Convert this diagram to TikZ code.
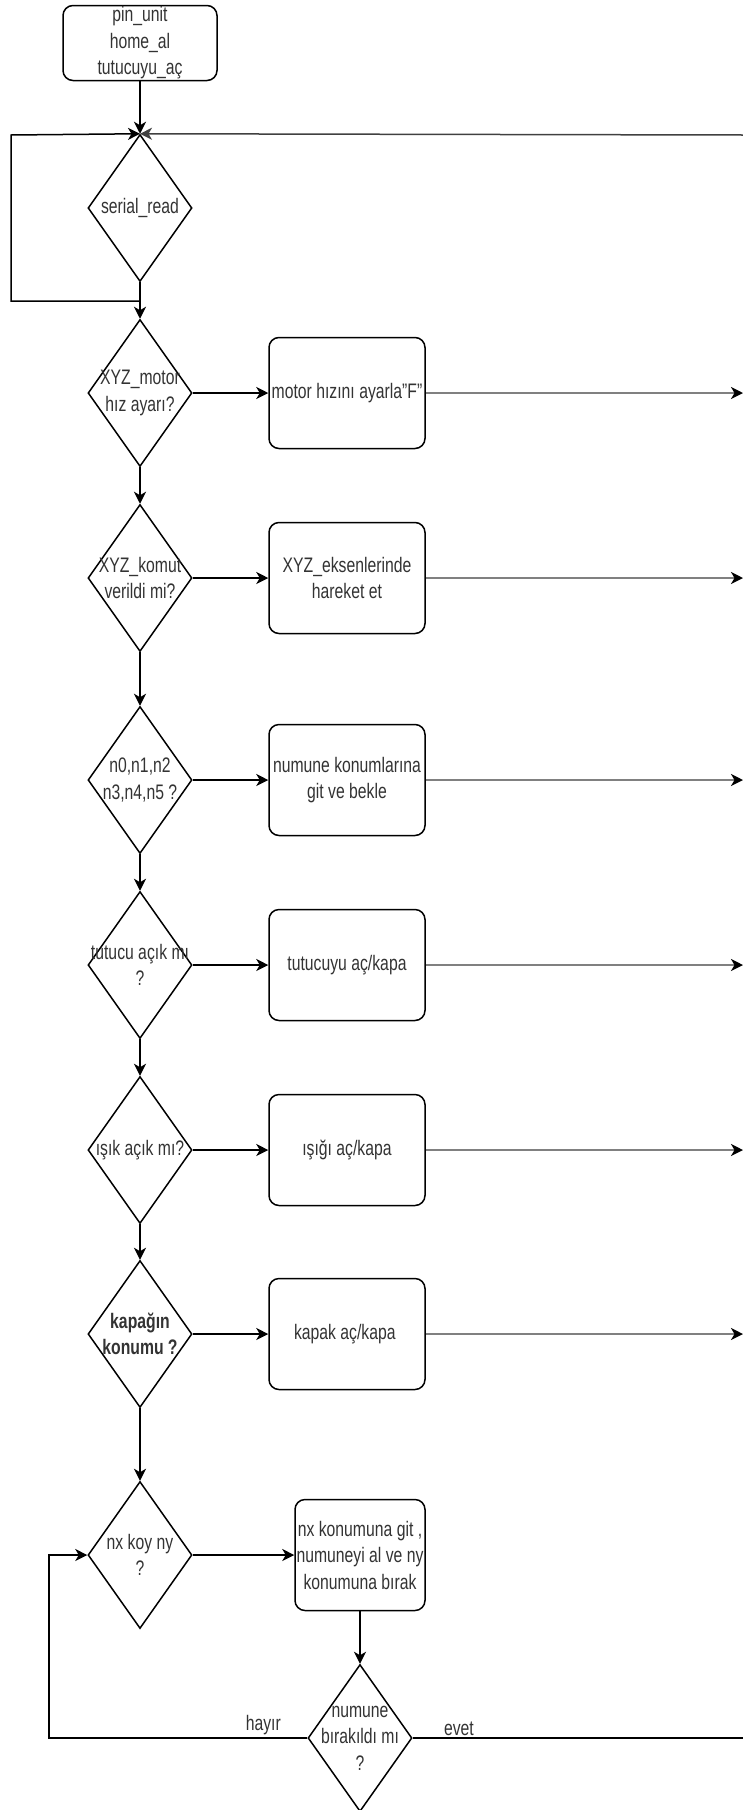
\documentclass[tikz,border=0pt]{standalone}
\usepackage{fontspec}
\setmainfont[FakeStretch=0.75]{Liberation Sans}
\usetikzlibrary{shapes.geometric,arrows.meta}

\begin{document}
\begin{tikzpicture}[
  x=1pt, y=-1pt,
  every node/.style={font=\fontsize{21}{26.5}\selectfont, text=black!80},
  decision/.style={draw, diamond, line width=1.5pt, minimum width=104pt, minimum height=147pt, inner sep=0pt},
  task/.style={draw, rounded corners=10pt, line width=1.5pt, minimum width=156pt, minimum height=111pt, inner sep=1pt, align=center},
  txt/.style={align=center, inner sep=0pt},
  flow/.style={line width=1.5pt, -{Stealth[length=12pt,width=12pt,inset=3.5pt]}},
  back/.style={line width=2.4pt, draw=black!50, -{Stealth[length=12pt,width=12pt,inset=3.5pt,color=black]}},
]
\useasboundingbox (0,0) rectangle (743,1810);

\node[task, minimum width=154pt, minimum height=75pt, inner sep=0pt] (start) at (140,43) {pin\_unit\\home\_al\\tutucuyu\_aç};
\node[decision, label={[txt]center:serial\_read}] (serial) at (140,208) {};
\coordinate (edge) at (743,135);
\coordinate (lp) at (140,301);
\coordinate (loopL) at (11,135);

\draw[flow] (start) -- (serial);
\draw[flow] (lp) -| (loopL) -- (serial.north);
\draw[flow, draw=black!75] (edge) -- (serial.north);

% one row per question
\foreach[count=\i] \y/\q/\a in {
  393/{XYZ\_motor\\hız ayarı?}/{motor hızını ayarla"F"},
  578/{XYZ\_komut\\verildi mi?}/{XYZ\_eksenlerinde\\hareket et},
  780/{n0,n1,n2\\n3,n4,n5 ?}/{numune konumlarına\\git ve bekle},
  965/{tutucu açık mı\\?}/{tutucuyu aç/kapa},
  1150/{ışık açık mı?}/{ışığı aç/kapa},
  1334/{\textbf{kapağın}\\\textbf{konumu ?}}/{kapak aç/kapa}
}{
  \node[decision, label={[txt]center:\q}] (d\i) at (140,\y) {};
  \node[task] (b\i) at (347,\y) {\a};
  \draw[flow] (d\i) -- (b\i);
  \draw[back] (b\i) -- (b\i -| edge);
}
\draw[flow] (serial) -- (d1);
\foreach \i/\j in {1/2,2/3,3/4,4/5,5/6}
  \draw[flow] (d\i) -- (d\j);

\node[decision, label={[txt]center:nx koy ny\\?}] (nxny) at (140,1555) {};
\node[task, minimum width=130pt] (tasi) at (360,1555) {nx konumuna git ,\\numuneyi al ve ny\\konumuna bırak};
\node[decision, label={[txt]center:numune\\bırakıldı mı\\?}] (birak) at (360,1738) {};
\coordinate (loopB) at (49,1738);

\draw[flow] (d6) -- (nxny);
\draw[flow] (nxny) -- (tasi);
\draw[flow] (tasi) -- (birak);
\draw[flow] (birak.west) -- node[above, pos=0.17, inner sep=2pt] {hayır} (loopB) |- (nxny.west);
\draw[line width=1.5pt] (birak.east) -- node[above, pos=0.14, inner sep=2pt] {evet} (birak.east -| edge);
\end{tikzpicture}
\end{document}
